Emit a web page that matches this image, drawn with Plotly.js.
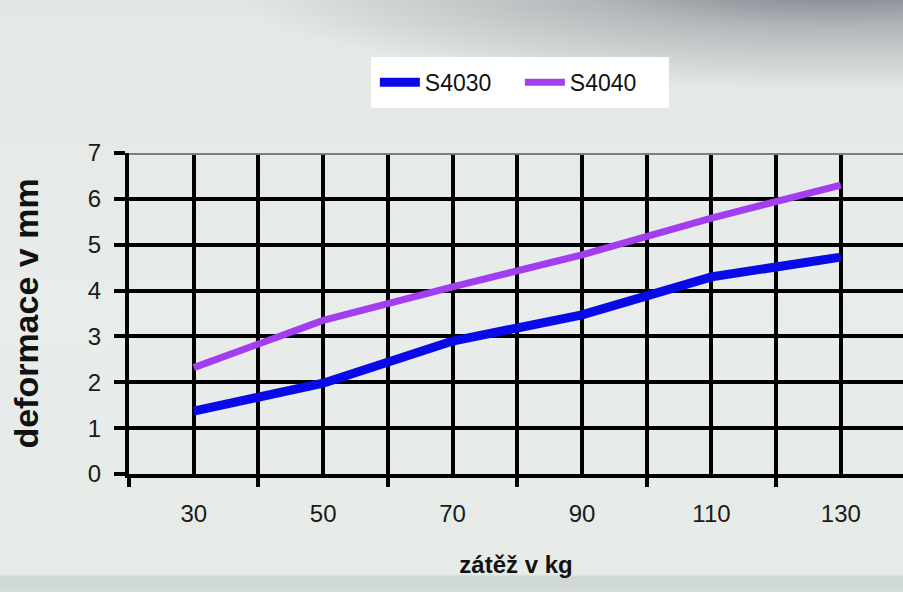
<!DOCTYPE html>
<html>
<head>
<meta charset="utf-8">
<script src="https://cdn.plot.ly/plotly-3.0.1.min.js"></script>
<style>
  html, body { margin: 0; padding: 0; }
  body {
    width: 903px; height: 592px; overflow: hidden;
    background:
      radial-gradient(ellipse 620px 110px at 840px -20px, rgba(110,114,128,0.95), rgba(140,146,152,0.55) 45%, rgba(225,231,228,0) 100%),
      linear-gradient(to bottom, #e3e8e5 0px, #e8ecea 300px, #e6ebe8 574px, #cdd6d2 577px, #d3dcd9 592px);
  }
  #chart { width: 903px; height: 592px; }
</style>
</head>
<body>
<div id="chart"></div>
<script>
// zatizeni v kg
const loads = [30, 50, 70, 90, 110, 130];
// deformace v mm
const s4030 = [1.37, 1.98, 2.9, 3.47, 4.3, 4.73];
const s4040 = [2.32, 3.35, 4.08, 4.78, 5.58, 6.3];
const boundaries = [20, 40, 60, 80, 100, 120];

const font = 'Liberation Sans, Arial, sans-serif';

const traces = [
    {
        x: loads,
        y: s4030,
        type: 'scatter',
        mode: 'lines',
        name: 'S4030',
        line: { color: '#0a0ae8', width: 9 }
    },
    {
        x: loads,
        y: s4040,
        type: 'scatter',
        mode: 'lines',
        name: 'S4040',
        line: { color: '#a23df0', width: 7 }
    }
];

const layout = {
    width: 903,
    height: 592,
    margin: { l: 129, r: 0, t: 153, b: 118 },
    paper_bgcolor: 'rgba(0,0,0,0)',
    plot_bgcolor: 'rgba(0,0,0,0)',
    font: { family: font, color: '#1a1a1a' },
    showlegend: true,
    legend: {
        orientation: 'h',
        x: 0.505, xanchor: 'center',
        y: 1.3, yanchor: 'top',
        bgcolor: '#ffffff',
        bordercolor: '#ffffff',
        borderwidth: 4,
        font: { family: font, size: 23, color: '#111' },
        entrywidth: 90,
        itemwidth: 40,
        traceorder: 'normal'
    },
    xaxis: {
        range: [20, 139.6],
        tickmode: 'array',
        tickvals: loads,
        ticktext: loads.map(String),
        ticks: '',
        ticklabelstandoff: 15,
        tickfont: { size: 24, color: '#1a1a1a' },
        showgrid: true,
        gridcolor: '#000',
        gridwidth: 4,
        zeroline: false,
        showline: true,
        linecolor: '#000',
        linewidth: 4,
        minor: {
            tickmode: 'array',
            tickvals: boundaries,
            ticks: 'outside',
            ticklen: 9,
            tickwidth: 4,
            tickcolor: '#000',
            showgrid: true,
            gridcolor: '#000',
            gridwidth: 4
        },
        title: {
            text: 'zátěž v kg',
            font: { family: font, size: 24, color: '#111', weight: 'bold' },
            standoff: 31
        }
    },
    yaxis: {
        range: [0, 7],
        dtick: 1,
        ticks: 'outside',
        ticklen: 11,
        tickwidth: 4,
        tickcolor: '#000',
        ticklabelstandoff: 8,
        tickfont: { size: 24, color: '#1a1a1a' },
        showgrid: true,
        gridcolor: '#000',
        gridwidth: 4,
        zeroline: false,
        showline: true,
        linecolor: '#000',
        linewidth: 4,
        title: {
            text: 'deformace v mm',
            font: { family: font, size: 34, color: '#111', weight: 'bold' },
            standoff: 40
        }
    },
    shapes: [
        {
            type: 'line', xref: 'paper', yref: 'y', layer: 'above',
            x0: 0, x1: 1, y0: 7, y1: 7,
            line: { color: '#7c7f80', width: 4 }
        }
    ]
};

Plotly.newPlot('chart', traces, layout, { displayModeBar: false, staticPlot: true });
</script>
</body>
</html>
